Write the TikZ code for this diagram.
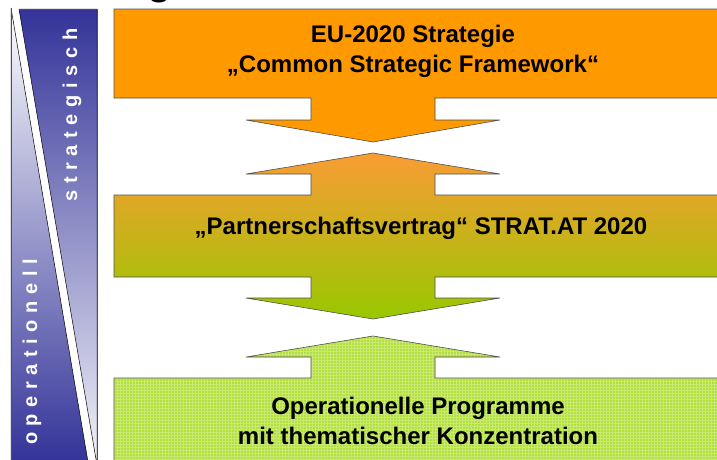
\documentclass[tikz,border=0pt]{standalone}
\usepackage{fontspec}
\setmainfont{Liberation Sans}
\newfontfamily\spacedfont[LetterSpace=33]{Liberation Sans}
\usetikzlibrary{patterns}
\definecolor{eugelb}{RGB}{255,153,0}
\definecolor{pvorange}{RGB}{249,156,52}
\definecolor{pvmitte}{RGB}{230,172,42}
\definecolor{pvgruen}{RGB}{152,200,0}
\definecolor{opgruen}{RGB}{180,224,62}
\definecolor{opraster}{RGB}{200,234,115}
\definecolor{dunkelblau}{RGB}{51,51,153}
\definecolor{rand}{RGB}{80,80,80}
\begin{document}
\begin{tikzpicture}[x=1pt, y=-1pt,
            txt/.style={align=center, font=\fontsize{24}{30}\selectfont\bfseries},
            seite/.style={white, rotate=90, font=\fontsize{20}{22}\selectfont\bfseries\spacedfont},
            kante/.style={draw=rand, line width=0.6pt}]
            \useasboundingbox (0,0) rectangle (717,459);
            
            \node[font=\fontsize{40}{40}\selectfont\bfseries, anchor=base] (TT) at (160,-6) {g};
            
            % links: operationell / strategisch
            \shade[top color=white, bottom color=dunkelblau, draw=black, line width=0.5pt]
                (11,8) -- (88,462) -- (11,462) -- cycle;
            \shade[top color=dunkelblau, bottom color=white!94!dunkelblau, draw=black, line width=0.5pt]
                (19,9) -- (97,9) -- (97,465) -- cycle;
            \draw[rand, line width=0.5pt] (11,8) -- (11,462);
            \draw[rand, line width=0.5pt] (19,9) -- (97,9) -- (97,462);
            
            \node[seite] (ST) at (72,115) {strategisch};
            \node[seite] (OL) at (32,352) {operationell};
            
            % Kasten 1 mit Pfeil nach unten
            \path[kante, fill=eugelb] (114,9) -- (730,9) -- (730,98) -- (435,98) -- (435,120) -- (500,120)
                -- (373,142) -- (246,120) -- (311,120) -- (311,98) -- (114,98) -- cycle;
            
            % Kasten 2 mit Pfeil nach oben und unten
            \path[kante, top color=pvorange, middle color=pvmitte, bottom color=pvgruen]
                (373,153) -- (500,174) -- (435,174) -- (435,195) -- (730,195) -- (730,277) -- (435,277)
                -- (435,298) -- (500,298) -- (373,319) -- (246,298) -- (311,298) -- (311,277) -- (114,277)
                -- (114,195) -- (311,195) -- (311,174) -- (246,174) -- cycle;
            
            % Kasten 3 mit Pfeil nach oben
            \path[fill=opgruen] (373,336) -- (500,357) -- (435,357) -- (435,378) -- (730,378) -- (730,470)
                -- (114,470) -- (114,378) -- (311,378) -- (311,357) -- (246,357) -- cycle;
            \path[pattern=grid, pattern color=opraster] (373,336) -- (500,357) -- (435,357) -- (435,378)
                -- (730,378) -- (730,470) -- (114,470) -- (114,378) -- (311,378) -- (311,357) -- (246,357) -- cycle;
            \draw[kante] (730,470) -- (730,378) -- (435,378) -- (435,357) -- (500,357) -- (373,336) -- (246,357)
                -- (311,357) -- (311,378) -- (114,378) -- (114,470);
            
            \node[txt] (EU) at (413,51) {EU-2020 Strategie\\„Common Strategic Framework“};
            \node[txt] (PV) at (421,228) {„Partnerschaftsvertrag“ STRAT.AT 2020};
            \node[txt] (OP) at (418,421) {Operationelle Programme\\mit thematischer Konzentration};
\end{tikzpicture}
\end{document}
